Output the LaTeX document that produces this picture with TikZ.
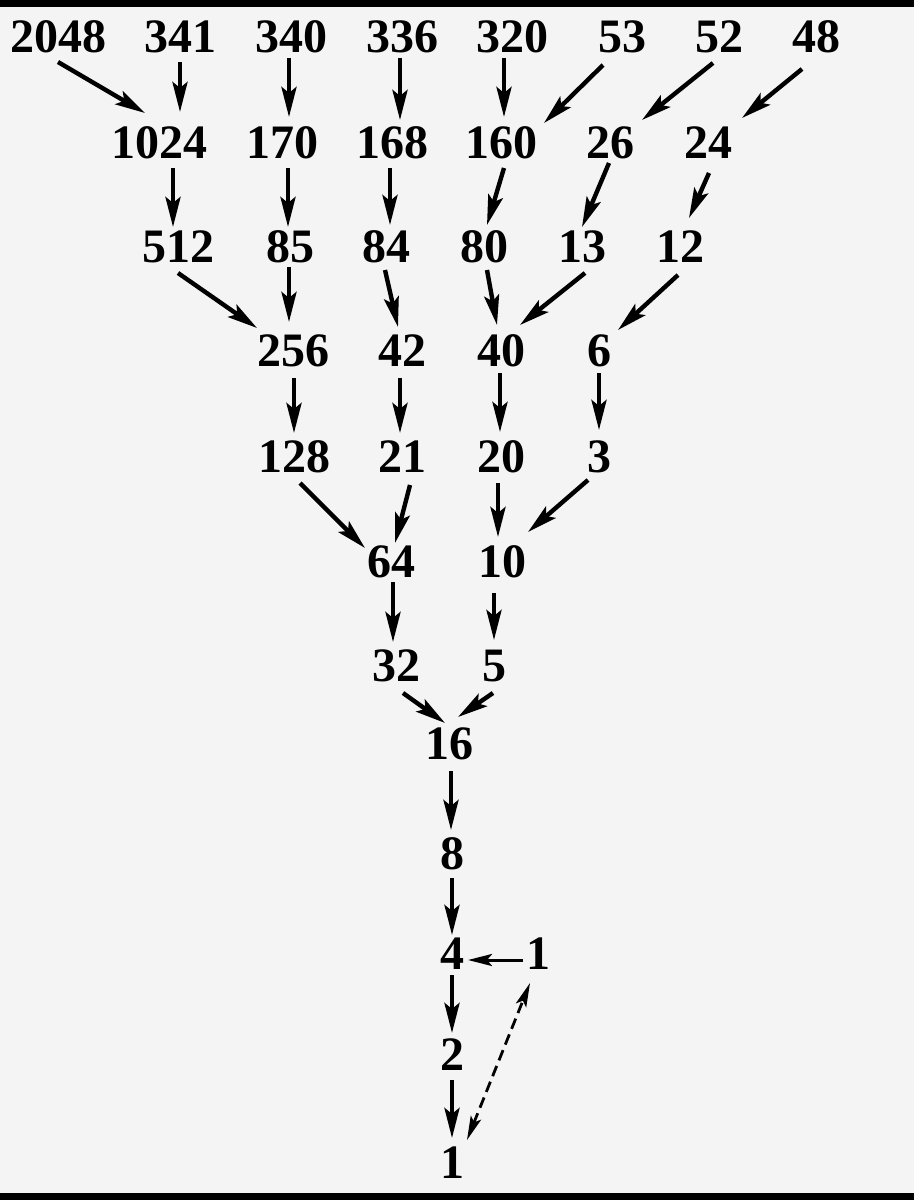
\documentclass[tikz,border=0pt]{standalone}
\usepackage{fontspec}
\setmainfont{Liberation Serif}
\usetikzlibrary{arrows.meta}
\definecolor{bgc}{HTML}{F4F4F4}
\tikzset{
  lbl/.style={inner sep=0pt, anchor=center, font=\fontsize{48}{52}\selectfont\bfseries},
  arr/.style={line width=4.4pt, -{Stealth[length=30pt,width=15pt,inset=6pt]}},
  arrs/.style={line width=3pt, -{Stealth[length=24pt,width=12pt,inset=5pt]}},
  darr/.style={line width=2.8pt, dash pattern=on 11pt off 6pt, {Stealth[length=24pt,width=11pt,inset=5pt]}-{Stealth[length=24pt,width=11pt,inset=5pt]}}
}
\newcommand{\ar}[5]{\draw[arr] ([shift={#2}]#1.center) -- ([shift={#4}]#3.center);}
\begin{document}
\begin{tikzpicture}[x=1pt,y=-1pt]
\fill[bgc] (0,0) rectangle (914,1200);
\fill[black] (0,0) rectangle (914,7);
\fill[black] (0,1193) rectangle (914,1200);
\useasboundingbox (0,0) rectangle (914,1200);
% row 1
\node[lbl] (n2048) at (58,37) {2048};
\node[lbl] (n341) at (180,37) {341};
\node[lbl] (n340) at (291,37) {340};
\node[lbl] (n336) at (402,37) {336};
\node[lbl] (n320) at (512,37) {320};
\node[lbl] (n53) at (622,37) {53};
\node[lbl] (n52) at (719,37) {52};
\node[lbl] (n48) at (816,37) {48};
% row 2
\node[lbl] (n1024) at (159,143) {1024};
\node[lbl] (n170) at (282,143) {170};
\node[lbl] (n168) at (392,143) {168};
\node[lbl] (n160) at (501,143) {160};
\node[lbl] (n26) at (610,143) {26};
\node[lbl] (n24) at (708,143) {24};
% row 3
\node[lbl] (n512) at (178,247) {512};
\node[lbl] (n85) at (290,247) {85};
\node[lbl] (n84) at (386,247) {84};
\node[lbl] (n80) at (484,247) {80};
\node[lbl] (n13) at (582,247) {13};
\node[lbl] (n12) at (680,247) {12};
% row 4
\node[lbl] (n256) at (293,351) {256};
\node[lbl] (n42) at (402,351) {42};
\node[lbl] (n40) at (501,351) {40};
\node[lbl] (n6) at (599,351) {6};
% row 5
\node[lbl] (n128) at (294,457) {128};
\node[lbl] (n21) at (402,457) {21};
\node[lbl] (n20) at (501,457) {20};
\node[lbl] (n3) at (599,457) {3};
% row 6
\node[lbl] (n64) at (391,562) {64};
\node[lbl] (n10) at (502,562) {10};
% row 7
\node[lbl] (n32) at (396,666) {32};
\node[lbl] (n5) at (494,666) {5};
% trunk
\node[lbl] (n16) at (449,744) {16};
\node[lbl] (n8) at (452,854) {8};
\node[lbl] (n4) at (452,954) {4};
\node[lbl] (n1r) at (538,954) {1};
\node[lbl] (n2) at (452,1055) {2};
\node[lbl] (n1b) at (452,1163) {1};
% arrows
\ar{n2048}{(0,25)}{n1024}{(-14,-30)}{}
\ar{n341}{(0,25)}{n1024}{(21,-31)}{}
\ar{n340}{(-2,21)}{n170}{(7,-26)}{}
\ar{n336}{(-2,21)}{n168}{(8,-23)}{}
\ar{n1024}{(14,25)}{n512}{(-5,-20)}{}
\ar{n170}{(6,25)}{n85}{(-2,-20)}{}
\ar{n168}{(-2,25)}{n84}{(4,-22)}{}
\ar{n320}{(-8,21)}{n160}{(3,-26)}{}
\ar{n53}{(-19,28)}{n160}{(43,-20)}{}
\ar{n52}{(-6,26)}{n26}{(32,-23)}{}
\ar{n48}{(-14,32)}{n24}{(34,-25)}{}
\ar{n160}{(3,25)}{n80}{(3,-22)}{}
\ar{n26}{(-1,20)}{n13}{(0,-20)}{}
\ar{n24}{(1,30)}{n12}{(9,-29)}{}
\ar{n512}{(0,26)}{n256}{(-36,-23)}{}
\ar{n85}{(-1,20)}{n256}{(-4,-29)}{}
\ar{n84}{(-1,23)}{n42}{(-4,-24)}{}
\ar{n80}{(3,23)}{n40}{(-4,-26)}{}
\ar{n13}{(3,26)}{n40}{(19,-26)}{}
\ar{n12}{(-2,28)}{n6}{(19,-21)}{}
\ar{n256}{(1,27)}{n128}{(0,-24)}{}
\ar{n42}{(-2,27)}{n21}{(-2,-24)}{}
\ar{n40}{(-1,22)}{n20}{(-1,-25)}{}
\ar{n6}{(0,22)}{n3}{(0,-27)}{}
\ar{n128}{(6,26)}{n64}{(-26,-14)}{}
\ar{n21}{(8,28)}{n64}{(4,-19)}{}
\ar{n20}{(-3,26)}{n10}{(-4,-25)}{}
\ar{n3}{(-11,23)}{n10}{(26,-30)}{}
\ar{n64}{(2,20)}{n32}{(-3,-24)}{}
\ar{n10}{(-8,31)}{n5}{(0,-26)}{}
\ar{n32}{(7,27)}{n16}{(-4,-21)}{}
\ar{n5}{(-1,27)}{n16}{(9,-27)}{}
\ar{n16}{(2,27)}{n8}{(-1,-24)}{}
\ar{n8}{(0,24)}{n4}{(0,-19)}{}
\draw[arrs] ([shift={(-15,6)}]n1r.center) -- ([shift={(16,6)}]n4.center);
\ar{n4}{(0,21)}{n2}{(0,-22)}{}
\ar{n2}{(0,25)}{n1b}{(0,-25)}{}
\draw[darr] ([shift={(15,-23)}]n1b.center) -- ([shift={(-8,29)}]n1r.center);
\end{tikzpicture}
\end{document}
